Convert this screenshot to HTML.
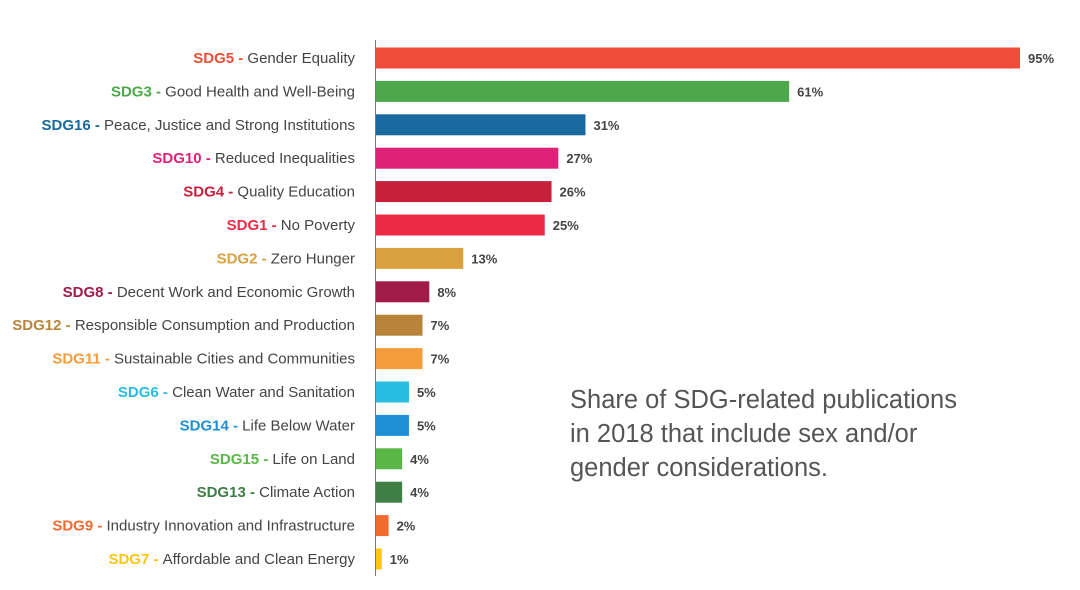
<!DOCTYPE html>
<html><head><meta charset="utf-8"><style>
body{margin:0;background:#fff;width:1080px;height:585px;overflow:hidden;font-family:"Liberation Sans",sans-serif}
svg text{font-family:"Liberation Sans",sans-serif}
</style></head><body>
<svg id="chart" width="1080" height="585" xmlns="http://www.w3.org/2000/svg">
<line x1="375.5" y1="40" x2="375.5" y2="576" stroke="#777" stroke-width="1"/>
<text font-size="25.5" fill="#555"><tspan x="570" y="408">Share of SDG-related publications</tspan><tspan x="570" y="442">in 2018 that include sex and/or</tspan><tspan x="570" y="476">gender considerations.</tspan></text>
</svg>
<script>
const codes=["SDG5","SDG3","SDG16","SDG10","SDG4","SDG1","SDG2","SDG8","SDG12","SDG11","SDG6","SDG14","SDG15","SDG13","SDG9","SDG7"];
const names=["Gender Equality","Good Health and Well-Being","Peace, Justice and Strong Institutions","Reduced Inequalities","Quality Education","No Poverty","Zero Hunger","Decent Work and Economic Growth","Responsible Consumption and Production","Sustainable Cities and Communities","Clean Water and Sanitation","Life Below Water","Life on Land","Climate Action","Industry Innovation and Infrastructure","Affordable and Clean Energy"];
const values=[95,61,31,27,26,25,13,8,7,7,5,5,4,4,2,1];
const colors=["#ef4d3a","#4ca84a","#19699e","#e0217a","#c81f3c","#ec2a45","#d9a23f","#a01b48","#b8843a","#f59c3a","#27bde2","#1e8fd5","#5bb648","#3f7e45","#f26a2e","#fbc417"];
const svg=document.getElementById('chart');
const NS="http://www.w3.org/2000/svg";
const x0=375, xScale=v=>x0+v*(1020-375)/95;
const yCenter=i=>58+i*33.4;
const barH=21;
codes.forEach((c,i)=>{
  const y=yCenter(i);
  const r=document.createElementNS(NS,'rect');
  
  
  r.setAttribute('x',x0+1);r.setAttribute('y',y-barH/2);
  r.setAttribute('width',xScale(values[i])-x0-1);r.setAttribute('height',barH);
  r.setAttribute('fill',colors[i]);svg.appendChild(r);
  const v=document.createElementNS(NS,'text');
  
  
  v.setAttribute('x',xScale(values[i])+8);v.setAttribute('y',y+5);
  v.setAttribute('font-size','13');v.setAttribute('font-weight','bold');v.setAttribute('fill','#444');
  v.textContent=values[i]+'%';svg.appendChild(v);
  const t=document.createElementNS(NS,'text');
  
  
  t.setAttribute('x',355);t.setAttribute('y',y+5);t.setAttribute('text-anchor','end');t.setAttribute('font-size','15');
  const s1=document.createElementNS(NS,'tspan');
  s1.setAttribute('fill',colors[i]);s1.setAttribute('font-weight','bold');s1.textContent=c+' - ';
  const s2=document.createElementNS(NS,'tspan');
  s2.setAttribute('fill','#444');s2.textContent=names[i];
  t.appendChild(s1);t.appendChild(s2);svg.appendChild(t);
});
</script>
</body></html>
